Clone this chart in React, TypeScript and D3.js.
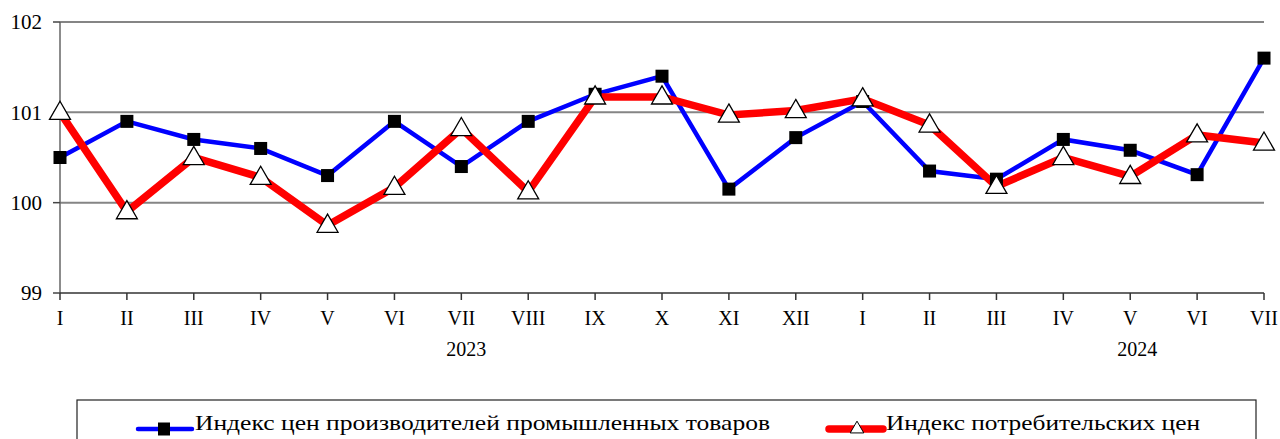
import React, { useEffect, useRef } from "react";
import * as d3 from "d3";

const months = ["I", "II", "III", "IV", "V", "VI", "VII", "VIII", "IX", "X", "XI", "XII",
  "I", "II", "III", "IV", "V", "VI", "VII"];
const years = [{ label: "2023", at: 6, dx: 5 }, { label: "2024", at: 16, dx: 7 }];
const producerIdx = [100.5, 100.9, 100.7, 100.6, 100.3, 100.9, 100.4, 100.9, 101.2, 101.4, 100.15, 100.72,
  101.12, 100.35, 100.26, 100.7, 100.58, 100.31, 101.6];
const consumerIdx = [101.0, 99.9, 100.5, 100.28, 99.75, 100.17, 100.82, 100.12, 101.17, 101.17, 100.97, 101.02,
  101.15, 100.86, 100.18, 100.5, 100.29, 100.75, 100.66];
const yTicks = [99, 100, 101, 102];
const legendNames = ["Индекс цен производителей промышленных товаров", "Индекс потребительских цен"];

const W = 1280, H = 439;
const font = "'Liberation Serif', 'DejaVu Serif', 'Times New Roman', serif";

export default function App() {
  const ref = useRef<SVGSVGElement>(null);

  useEffect(() => {
    const svg = d3.select(ref.current);
    svg.selectAll("*").remove();

    const x = d3.scalePoint<number>().domain(d3.range(months.length)).range([60, 1264]);
    const y = d3.scaleLinear().domain([99, 102]).range([293, 22]);

    // grid
    svg.append("g").selectAll("line").data(yTicks.filter(d => d > 99)).join("line")
      .attr("x1", 60).attr("x2", 1264)
      .attr("y1", d => y(d)).attr("y2", d => y(d))
      .attr("stroke", "#858585").attr("stroke-width", 2);

    // y axis
    svg.append("line").attr("x1", 60).attr("x2", 60).attr("y1", y(102)).attr("y2", y(99))
      .attr("stroke", "#666").attr("stroke-width", 1.5);
    svg.append("g").selectAll("line").data(yTicks).join("line")
      .attr("x1", 53).attr("x2", 60).attr("y1", d => y(d)).attr("y2", d => y(d))
      .attr("stroke", "#444").attr("stroke-width", 1.5);
    svg.append("g").selectAll("text").data(yTicks).join("text")
      .attr("x", 42).attr("y", d => y(d)).attr("dy", "0.35em")
      .attr("text-anchor", "end").style("font-family", font).style("font-size", "21px")
      .text(d => d);

    // x axis
    svg.append("line").attr("x1", 60).attr("x2", 1264).attr("y1", y(99)).attr("y2", y(99))
      .attr("stroke", "#333").attr("stroke-width", 1.5);
    svg.append("g").selectAll("line").data(months).join("line")
      .attr("x1", (_, i) => x(i)!).attr("x2", (_, i) => x(i)!)
      .attr("y1", y(99)).attr("y2", y(99) + 7)
      .attr("stroke", "#333").attr("stroke-width", 1.5);
    svg.append("g").selectAll("text").data(months).join("text")
      .attr("x", (_, i) => x(i)!).attr("y", y(99) + 32)
      .attr("text-anchor", "middle").style("font-family", font).style("font-size", "20px")
      .text(d => d);
    svg.append("g").selectAll("text").data(years).join("text")
      .attr("x", d => x(d.at)! + d.dx).attr("y", 356)
      .attr("text-anchor", "middle").style("font-family", font).style("font-size", "20px")
      .text(d => d.label);

    const line = d3.line<number>().x((_, i) => x(i)!).y(d => y(d));

    svg.append("path").datum(producerIdx).attr("d", line)
      .attr("fill", "none").attr("stroke", "#0000ff").attr("stroke-width", 4.5);
    svg.append("path").datum(consumerIdx).attr("d", line)
      .attr("fill", "none").attr("stroke", "#ff0000").attr("stroke-width", 7.5);

    const tri = d3.symbol().type(d3.symbolTriangle).size(190);

    svg.append("g").selectAll("rect").data(producerIdx).join("rect")
      .attr("x", (_, i) => x(i)! - 6.5).attr("y", d => y(d) - 6.5)
      .attr("width", 13).attr("height", 13).attr("fill", "#000");
    svg.append("g").selectAll("path").data(consumerIdx).join("path")
      .attr("transform", (d, i) => `translate(${x(i)},${y(d) + 1})`)
      .attr("d", tri).attr("fill", "#fff").attr("stroke", "#000").attr("stroke-width", 1.3);

    // legend
    const lg = svg.append("g");
    lg.append("rect").attr("x", 77).attr("y", 400).attr("width", 1179).attr("height", 60)
      .attr("fill", "#fff").attr("stroke", "#222").attr("stroke-width", 1.2);
    const items = [
      { x0: 138, color: "#0000ff", w: 4.5, name: legendNames[0], kind: "sq", len: 575 },
      { x0: 829, color: "#ff0000", w: 7.5, name: legendNames[1], kind: "tri", len: 314 },
    ];
    const ly = 429;
    items.forEach(it => {
      lg.append("line").attr("x1", it.x0).attr("x2", it.x0 + 54).attr("y1", ly).attr("y2", ly)
        .attr("stroke", it.color).attr("stroke-width", it.w).attr("stroke-linecap", "round");
      if (it.kind === "sq") {
        lg.append("rect").attr("x", it.x0 + 20).attr("y", ly - 6.5).attr("width", 12).attr("height", 13).attr("fill", "#000");
      } else {
        lg.append("path").attr("transform", `translate(${it.x0 + 28},${ly})`)
          .attr("d", d3.symbol().type(d3.symbolTriangle).size(80))
          .attr("fill", "#fff").attr("stroke", "#000").attr("stroke-width", 1);
      }
      lg.append("text").attr("x", it.x0 + 57).attr("y", 430)
        .attr("textLength", it.len).attr("lengthAdjust", "spacingAndGlyphs")
        .style("font-family", font).style("font-size", "22px").text(it.name);
    });
  }, []);

  return (
    <svg ref={ref} width={W} height={H}
      style={{ position: "absolute", left: 0, top: 0, display: "block", background: "#fff" }} />
  );
}
